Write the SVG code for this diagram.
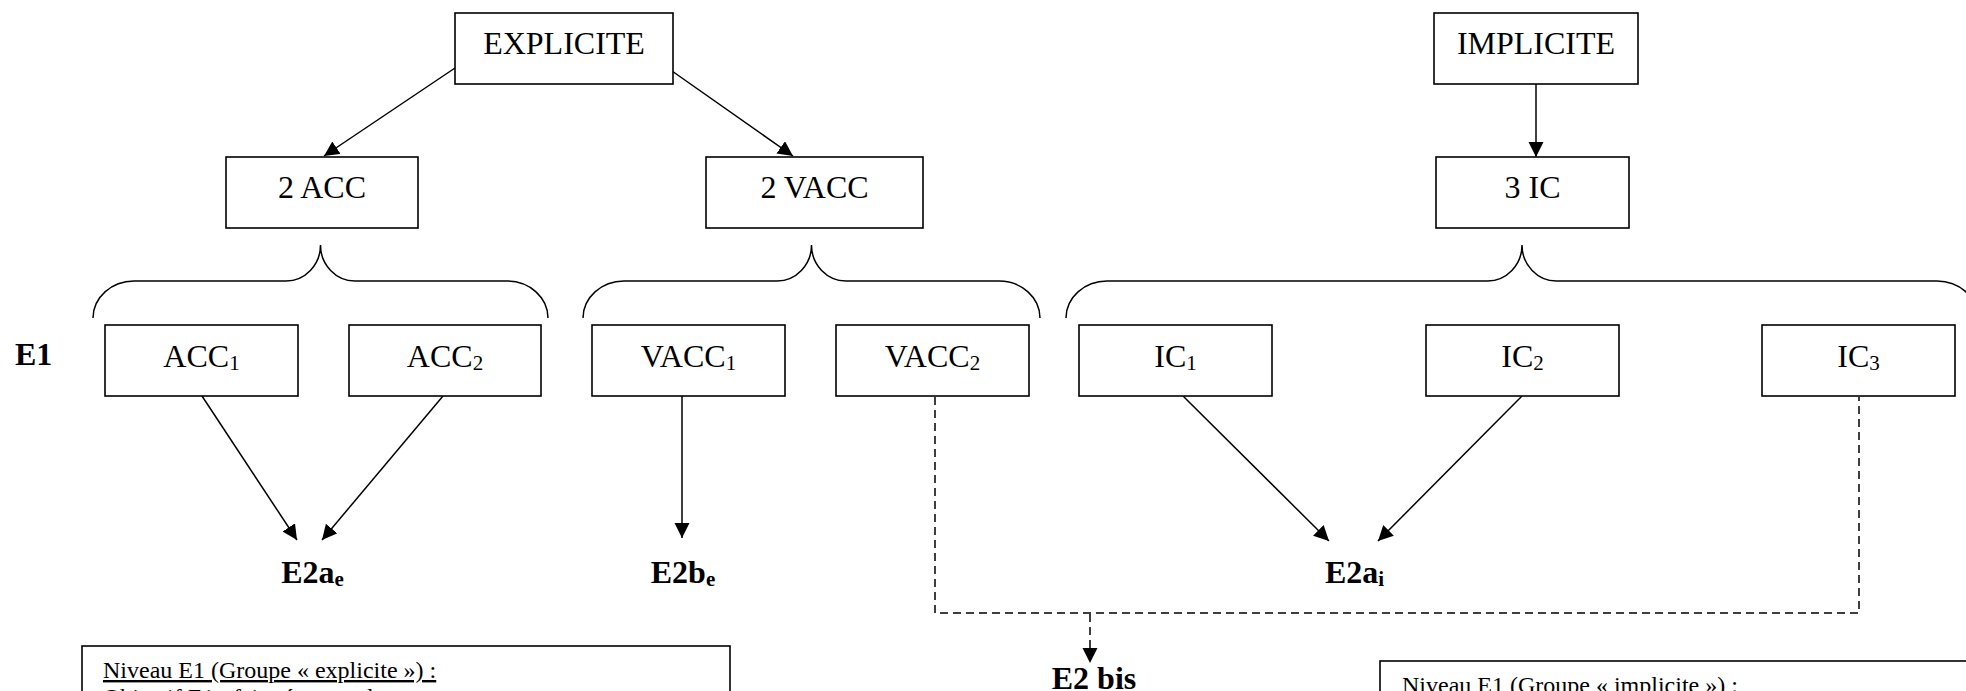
<svg xmlns="http://www.w3.org/2000/svg" width="1966" height="691" viewBox="0 0 1966 691">
<style>
.box{fill:#fff;stroke:#000;stroke-width:1.6}
.t{font-family:"Liberation Serif","Times New Roman",serif;font-size:32px;fill:#000;text-anchor:middle}
.b{font-weight:bold}
.sub{font-size:21px}
.note{font-family:"Liberation Serif","Times New Roman",serif;font-size:24px;fill:#000}
.ln{fill:none;stroke:#000;stroke-width:1.5}
.dash{fill:none;stroke:#000;stroke-width:1.5;stroke-dasharray:8 5}
.brace{fill:none;stroke:#000;stroke-width:1.5}
</style>
<defs>
<marker id="ah" markerUnits="userSpaceOnUse" markerWidth="16" markerHeight="16" refX="15" refY="7.5" orient="auto">
<path d="M0,0 L15,7.5 L0,15 z" fill="#000"/>
</marker>
</defs>
<rect width="1966" height="691" fill="#fff"/>

<g id="connectors">
<line class="ln" x1="455" y1="68" x2="324" y2="156" marker-end="url(#ah)"/>
<line class="ln" x1="672" y1="71" x2="793" y2="156" marker-end="url(#ah)"/>
<line class="ln" x1="1536" y1="84" x2="1536" y2="157" marker-end="url(#ah)"/>
<line class="ln" x1="202" y1="396" x2="297" y2="540" marker-end="url(#ah)"/>
<line class="ln" x1="443" y1="396" x2="322" y2="540" marker-end="url(#ah)"/>
<line class="ln" x1="682" y1="396" x2="682" y2="538" marker-end="url(#ah)"/>
<line class="ln" x1="1183" y1="396" x2="1329" y2="541" marker-end="url(#ah)"/>
<line class="ln" x1="1522" y1="396" x2="1378" y2="541" marker-end="url(#ah)"/>
<polyline class="dash" points="935,397 935,613 1859,613 1859,397"/>
<line class="dash" x1="1090" y1="614" x2="1090" y2="663" marker-end="url(#ah)"/>
</g>

<g id="braces">
<path class="brace" d="M93 318 C93 297.6 111.4 281 134 281 L286 281 C305 281 320.5 264.9 320.5 245 C320.5 264.9 336 281 355 281 L507 281 C529.6 281 548 297.6 548 318"/>
<path class="brace" d="M583 318 C583 297.6 601.4 281 624 281 L777 281 C796 281 811.5 264.9 811.5 245 C811.5 264.9 827 281 846 281 L999 281 C1021.6 281 1040 297.6 1040 318"/>
<path class="brace" d="M1066 318 C1066 297.6 1084.4 281 1107 281 L1487.5 281 C1506.5 281 1522 264.9 1522 245 C1522 264.9 1537.5 281 1556.5 281 L1937 281 C1959.6 281 1978 297.6 1978 318"/>
</g>

<g id="explicite">
<rect class="box" x="455" y="13" width="218" height="71"/>
<text class="t" x="564" y="54">EXPLICITE</text>
</g>
<g id="implicite">
<rect class="box" x="1434" y="13" width="204" height="71"/>
<text class="t" x="1536" y="54">IMPLICITE</text>
</g>
<g id="acc2group">
<rect class="box" x="226" y="157" width="192" height="71"/>
<text class="t" x="322" y="198">2 ACC</text>
</g>
<g id="vacc2group">
<rect class="box" x="706" y="157" width="217" height="71"/>
<text class="t" x="814.5" y="198">2 VACC</text>
</g>
<g id="ic3group">
<rect class="box" x="1436" y="157" width="193" height="71"/>
<text class="t" x="1532.5" y="198">3 IC</text>
</g>

<g id="e1label">
<text class="t b" x="15" y="365" style="text-anchor:start">E1</text>
</g>

<g id="acc1">
<rect class="box" x="105" y="325" width="193" height="71"/>
<text class="t" x="201.5" y="367">ACC<tspan class="sub" dy="3">1</tspan></text>
</g>
<g id="acc2">
<rect class="box" x="349" y="325" width="192" height="71"/>
<text class="t" x="445" y="367">ACC<tspan class="sub" dy="3">2</tspan></text>
</g>
<g id="vacc1">
<rect class="box" x="592" y="325" width="193" height="71"/>
<text class="t" x="688.5" y="367">VACC<tspan class="sub" dy="3">1</tspan></text>
</g>
<g id="vacc2">
<rect class="box" x="836" y="325" width="193" height="71"/>
<text class="t" x="932.5" y="367">VACC<tspan class="sub" dy="3">2</tspan></text>
</g>
<g id="ic1">
<rect class="box" x="1079" y="325" width="193" height="71"/>
<text class="t" x="1175.5" y="367">IC<tspan class="sub" dy="3">1</tspan></text>
</g>
<g id="ic2">
<rect class="box" x="1426" y="325" width="193" height="71"/>
<text class="t" x="1522.5" y="367">IC<tspan class="sub" dy="3">2</tspan></text>
</g>
<g id="ic3">
<rect class="box" x="1762" y="325" width="193" height="71"/>
<text class="t" x="1858.5" y="367">IC<tspan class="sub" dy="3">3</tspan></text>
</g>

<g id="e2ae">
<text class="t b" x="312.5" y="583">E2a<tspan class="sub" dy="3">e</tspan></text>
</g>
<g id="e2be">
<text class="t b" x="683" y="583">E2b<tspan class="sub" dy="3">e</tspan></text>
</g>
<g id="e2ai">
<text class="t b" x="1354.5" y="583">E2a<tspan class="sub" dy="3">i</tspan></text>
</g>
<g id="e2bis">
<text class="t b" x="1094" y="689">E2 bis</text>
</g>

<g id="note-explicite">
<rect class="box" x="82" y="646" width="648" height="80"/>
<text class="note" x="103" y="678" text-decoration="underline">Niveau E1 (Groupe « explicite ») :</text>
<text class="note" x="103" y="705">Objectif E1 : faire émerger les</text>
</g>
<g id="note-implicite">
<rect class="box" x="1380" y="661" width="620" height="80"/>
<text class="note" x="1402" y="693" text-decoration="underline">Niveau E1 (Groupe « implicite ») :</text>
</g>
</svg>
